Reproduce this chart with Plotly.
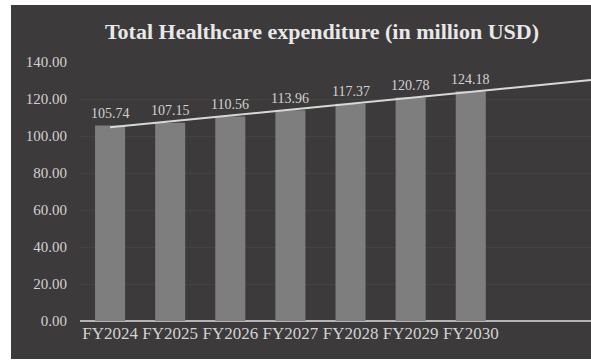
import numpy as np
import plotly.graph_objects as go

# Fiscal years and total healthcare expenditure (million USD)
years = ["FY2024", "FY2025", "FY2026", "FY2027", "FY2028", "FY2029", "FY2030"]
spend = [105.74, 107.15, 110.56, 113.96, 117.37, 120.78, 124.18]
y_ticks = [0, 20, 40, 60, 80, 100, 120, 140]

W, H = 591, 363
L, R, T, B = 80, 0, 62, 42
plot_w = W - L - R
plot_h = H - T - B

x_idx = np.arange(len(years))

# Linear trend through the series, carried forward to the right edge
slope, intercept = np.polyfit(x_idx, spend, 1)
trend_x = np.array([0.0, 8.0])
trend_y = intercept + slope * trend_x

BG = "#3c3a3a"
TXT = "#d2d2d2"
SERIF = "Liberation Serif"

fig = go.Figure()

fig.add_trace(go.Bar(
    x=x_idx, y=spend, width=0.5,
    marker=dict(color="#7e7e7e", line=dict(width=0)),
    hoverinfo="skip", showlegend=False,
))

fig.add_trace(go.Scatter(
    x=trend_x, y=trend_y, mode="lines",
    line=dict(color="#d8d8d8", width=2),
    hoverinfo="skip", showlegend=False,
))

# Value labels above each bar
for i, v in enumerate(spend):
    fig.add_annotation(
        x=i, y=v, text=f"{v:.2f}", showarrow=False,
        yshift=12, font=dict(family=SERIF, size=14, color=TXT),
    )

def px_to_paper_x(px):
    return (px - L) / plot_w

def px_to_paper_y(py):
    return (H - B - py) / plot_h

# Dark chart panel inside a thin white frame
fig.add_shape(
    type="rect", xref="paper", yref="paper", layer="below",
    x0=px_to_paper_x(11), x1=px_to_paper_x(W + 2),
    y0=px_to_paper_y(359), y1=px_to_paper_y(5),
    fillcolor=BG, line=dict(width=0),
)

fig.update_layout(
    width=W, height=H,
    margin=dict(l=L, r=R, t=T, b=B, pad=0),
    paper_bgcolor="white",
    plot_bgcolor="rgba(0,0,0,0)",
    title=dict(
        text="<b>Total Healthcare expenditure (in million USD)</b>",
        x=px_to_paper_x(322), xref="paper", xanchor="center",
        y=1 - 31 / H, yanchor="middle",
        font=dict(family=SERIF, size=22, color="#e8e8e8"),
    ),
    bargap=0.5,
    xaxis=dict(
        range=[-0.5, 8.0],
        tickvals=list(x_idx), ticktext=years,
        showgrid=False, zeroline=False,
        showline=False, ticks="",
        tickfont=dict(family=SERIF, size=17, color=TXT),
        fixedrange=True,
    ),
    yaxis=dict(
        range=[0, 140],
        tickvals=y_ticks, tickformat=".2f",
        showgrid=True, gridcolor="#444242", gridwidth=1,
        zeroline=True, zerolinecolor="#b5b5b5", zerolinewidth=2,
        showline=False, ticks="",
        ticklabelstandoff=12,
        tickfont=dict(family=SERIF, size=15, color=TXT),
        fixedrange=True,
    ),
)

fig.write_html("out.html", config={"displayModeBar": False})
